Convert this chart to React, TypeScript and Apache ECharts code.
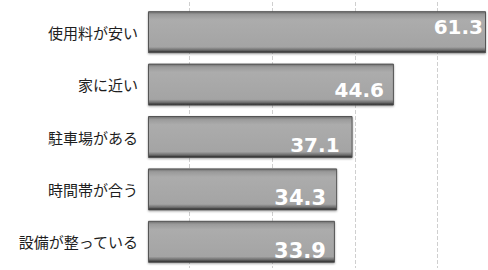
import React, { useEffect, useRef } from "react";
import * as echarts from "echarts";

const categories = ["使用料が安い", "家に近い", "駐車場がある", "時間帯が合う", "設備が整っている"];
const values = [61.3, 44.6, 37.1, 34.3, 33.9];
const gridStart = 7.5;
const gridInterval = 15;

// label placement per bar (perspective of the original picture)
const labelOffsetY = [-5, 5, 8, 9, 9];
const labelSizes = [20, 20, 20, 21, 21];
const labelRightPad = [1, 8, 11, 9, 7];

const GRID_LEFT = 148;
const GRID_RIGHT = 2;
const GRID_TOP = 6;
const GRID_BOTTOM = 2;
const WIDTH = 488;

export default function App() {
  const ref = useRef<HTMLDivElement>(null);
  useEffect(() => {
    if (!ref.current) return;
    const chart = echarts.init(ref.current, null, { renderer: "svg" });
    const maxV = Math.max(...values);
    const plotW = WIDTH - GRID_LEFT - GRID_RIGHT;
    const scale = plotW / maxV;
    const left2 = GRID_LEFT + gridStart * scale;
    chart.setOption({
      animation: false,
      backgroundColor: "#ffffff",
      grid: [
        { left: GRID_LEFT, right: GRID_RIGHT, top: GRID_TOP, bottom: GRID_BOTTOM, containLabel: false },
        { left: left2, right: GRID_RIGHT, top: 2, bottom: 2, containLabel: false },
      ],
      xAxis: [
        { type: "value", gridIndex: 0, min: 0, max: maxV, show: false, splitLine: { show: false } },
        {
          type: "value",
          gridIndex: 1,
          min: 0,
          max: maxV - gridStart,
          interval: gridInterval,
          axisLine: { show: false },
          axisTick: { show: false },
          axisLabel: { show: false },
          splitLine: { show: true, showMinLine: true, showMaxLine: false, lineStyle: { color: "#cfcfcf", type: "dashed", width: 1 } },
        },
      ],
      yAxis: [
        {
          type: "category",
          gridIndex: 0,
          data: categories,
          inverse: true,
          axisLine: { show: false },
          axisTick: { show: false },
          axisLabel: {
            margin: 10,
            color: "#1e1e1e",
            fontSize: 15,
            fontFamily: "'Noto Sans CJK JP', 'Noto Sans', sans-serif",
          },
        },
        { type: "category", gridIndex: 1, data: categories, show: false },
      ],
      series: [
        {
          type: "bar",
          xAxisIndex: 0,
          yAxisIndex: 0,
          barWidth: 42,
          z: 3,
          data: values.map((v, i) => ({
            value: v,
            label: {
              offset: [-labelRightPad[i], labelOffsetY[i]],
              fontSize: labelSizes[i],
            },
          })),
          itemStyle: {
            color: new echarts.graphic.LinearGradient(0, 0, 0, 1, [
              { offset: 0, color: "#6e6e6e" },
              { offset: 0.07, color: "#9a9a9a" },
              { offset: 0.2, color: "#acacac" },
              { offset: 0.86, color: "#a4a4a4" },
              { offset: 0.94, color: "#6a6a6a" },
              { offset: 1, color: "#1e1e1e" },
            ]),
            borderColor: "#555",
            borderWidth: 1,
            shadowColor: "rgba(0,0,0,0.35)",
            shadowOffsetY: 1,
            shadowBlur: 2,
          },
          label: {
            show: true,
            position: "insideRight",
            distance: 2,
            color: "#ffffff",
            fontWeight: "bold",
            fontFamily: "'DejaVu Sans', 'Noto Sans', sans-serif",
            formatter: (p: any) => Number(p.value).toFixed(1),
          },
        },
      ],
    });
    return () => chart.dispose();
  }, []);
  return <div ref={ref} style={{ width: 488, height: 270, position: "absolute", left: 0, top: 0 }} />;
}
